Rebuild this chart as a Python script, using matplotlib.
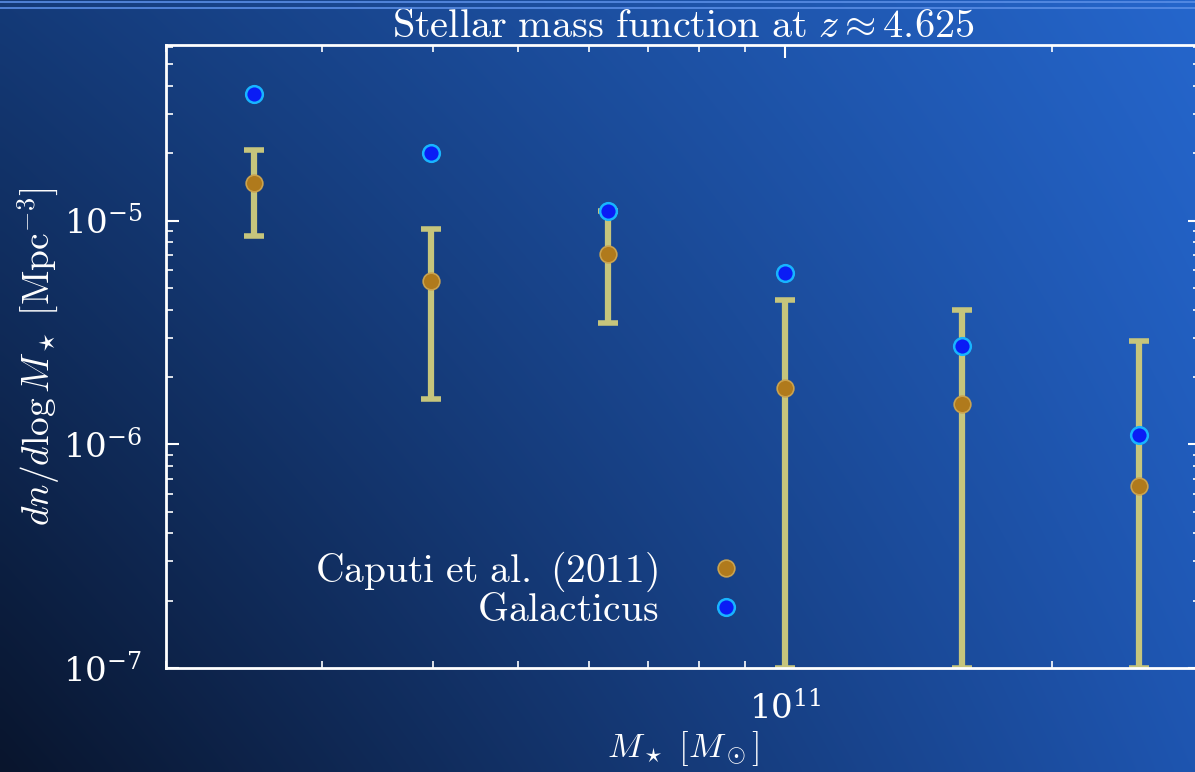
import numpy as np
import matplotlib
matplotlib.use("Agg")
import matplotlib.pyplot as plt
from matplotlib.colors import to_rgb
from matplotlib.lines import Line2D

plt.rcParams['mathtext.fontset'] = 'cm'
plt.rcParams['font.family'] = ['DejaVu Serif']

# data
log_mass = [10.4, 10.6, 10.8, 11.0, 11.2, 11.4]
caputi_phi = [1.47e-5, 5.4e-6, 7.1e-6, 1.79e-6, 1.52e-6, 6.5e-7]
caputi_hi = [2.08e-5, 9.2e-6, 1.1e-5, 4.43e-6, 4.0e-6, 2.9e-6]
caputi_lo = [8.5e-6, 1.6e-6, 3.5e-6, 1.0e-7, 1.0e-7, 1.0e-7]
galacticus_phi = [3.7e-5, 2.01e-5, 1.11e-5, 5.85e-6, 2.76e-6, 1.10e-6]

mass = 10.0 ** np.array(log_mass)
phi_c = np.array(caputi_phi)
yerr = [phi_c - np.array(caputi_lo), np.array(caputi_hi) - phi_c]

W, H = 1195, 772
fig = plt.figure(figsize=(W / 100, H / 100), dpi=100)

# slide background gradient
bg = fig.add_axes([0, 0, 1, 1], zorder=-10)
tl, tr = np.array(to_rgb('#143a78')), np.array(to_rgb('#2566cc'))
bl, br = np.array(to_rgb('#09152d')), np.array(to_rgb('#1e55b0'))
u = np.linspace(0, 1, 240)[None, :, None]
v = np.linspace(0, 1, 160)[:, None, None]  # 0 = top
top = tl * (1 - u) + tr * u
bot = bl * (1 - u) + br * u
img = top * (1 - v) + bot * v
bg.imshow(img, aspect='auto', extent=[0, 1, 0, 1], interpolation='bicubic')
bg.set_xlim(0, 1)
bg.set_ylim(0, 1)
bg.axis('off')
for yy in (1.5, 8):
    fig.add_artist(Line2D([0, 1], [1 - yy / H, 1 - yy / H], color='#5a8ee6',
                          lw=1.2, transform=fig.transFigure))

left, right, bottom, topp = 166, 1200, 668, 45
ax = fig.add_axes([left / W, 1 - bottom / H, (right - left) / W, (bottom - topp) / H])
ax.set_facecolor('none')
ax.set_xscale('log')
ax.set_yscale('log')
ax.set_xlim(2e10, 2.94e11)
ax.set_ylim(1e-7, 6.1e-5)

ax.errorbar(mass, phi_c, yerr=yerr, fmt='none', ecolor='#c6c57c', elinewidth=4.5,
            capsize=7, capthick=4, zorder=2)
ax.plot(mass, phi_c, 'o', ms=12, mfc='#b07a1c', mec='#caa24e', mew=1.2,
        label=r'$\mathrm{Caputi\ et\ al.\ (2011)}$', zorder=3)
ax.plot(mass, galacticus_phi, 'o', ms=12, mfc='#0a1cf5', mec='#18b4ff', mew=1.8,
        label=r'$\mathrm{Galacticus}$', zorder=4)

for s in ax.spines.values():
    s.set_color('white')
    s.set_linewidth(2)
ax.tick_params(which='both', direction='in', top=True, right=True, colors='white',
               labelsize=24.5, pad=17)
ax.tick_params(which='major', length=9, width=1.5)
ax.tick_params(which='minor', length=5, width=1.2)
ax.xaxis.set_minor_formatter(plt.NullFormatter())

ax.set_xlabel(r'$M_\star\ [M_\odot]$', color='white', fontsize=25, labelpad=2)
ax.set_ylabel(r'$dn/d\log M_\star\ [\mathrm{Mpc}^{-3}]$', color='white', fontsize=27)
ax.yaxis.set_label_coords((62 - left) / (right - left), 0.5)
ax.set_title(r'$\mathrm{Stellar\ mass\ function\ at\ }z \approx 4.625$', color='white',
             fontsize=29, pad=4)

leg = ax.legend(loc='lower right', bbox_to_anchor=((785 - left) / (right - left), 0.031),
                frameon=False, markerfirst=False, fontsize=28.5, handletextpad=0.7,
                handlelength=2.0, labelspacing=-0.05, labelcolor='white', borderpad=0)

fig.savefig('out.png', dpi=100)
